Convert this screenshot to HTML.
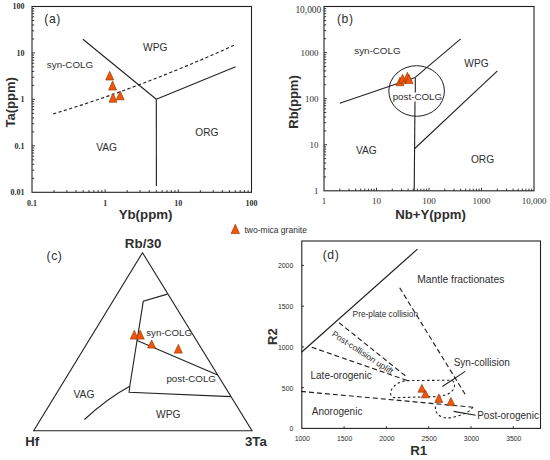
<!DOCTYPE html>
<html><head><meta charset="utf-8"><style>
html,body{margin:0;padding:0;background:#fff;width:550px;height:460px;overflow:hidden}
svg{display:block}
</style></head><body>
<svg width="550" height="460" viewBox="0 0 550 460">
<rect width="550" height="460" fill="#fff"/>
<line x1="54.03" y1="192.30" x2="54.03" y2="190.10" stroke="#222222" stroke-width="0.9" stroke-linecap="butt"/>
<line x1="66.91" y1="192.30" x2="66.91" y2="190.10" stroke="#222222" stroke-width="0.9" stroke-linecap="butt"/>
<line x1="76.05" y1="192.30" x2="76.05" y2="190.10" stroke="#222222" stroke-width="0.9" stroke-linecap="butt"/>
<line x1="83.14" y1="192.30" x2="83.14" y2="190.10" stroke="#222222" stroke-width="0.9" stroke-linecap="butt"/>
<line x1="88.93" y1="192.30" x2="88.93" y2="190.10" stroke="#222222" stroke-width="0.9" stroke-linecap="butt"/>
<line x1="93.83" y1="192.30" x2="93.83" y2="190.10" stroke="#222222" stroke-width="0.9" stroke-linecap="butt"/>
<line x1="98.08" y1="192.30" x2="98.08" y2="190.10" stroke="#222222" stroke-width="0.9" stroke-linecap="butt"/>
<line x1="101.82" y1="192.30" x2="101.82" y2="190.10" stroke="#222222" stroke-width="0.9" stroke-linecap="butt"/>
<line x1="105.17" y1="192.30" x2="105.17" y2="189.30" stroke="#222222" stroke-width="0.9" stroke-linecap="butt"/>
<line x1="127.19" y1="192.30" x2="127.19" y2="190.10" stroke="#222222" stroke-width="0.9" stroke-linecap="butt"/>
<line x1="140.08" y1="192.30" x2="140.08" y2="190.10" stroke="#222222" stroke-width="0.9" stroke-linecap="butt"/>
<line x1="149.22" y1="192.30" x2="149.22" y2="190.10" stroke="#222222" stroke-width="0.9" stroke-linecap="butt"/>
<line x1="156.31" y1="192.30" x2="156.31" y2="190.10" stroke="#222222" stroke-width="0.9" stroke-linecap="butt"/>
<line x1="162.10" y1="192.30" x2="162.10" y2="190.10" stroke="#222222" stroke-width="0.9" stroke-linecap="butt"/>
<line x1="167.00" y1="192.30" x2="167.00" y2="190.10" stroke="#222222" stroke-width="0.9" stroke-linecap="butt"/>
<line x1="171.24" y1="192.30" x2="171.24" y2="190.10" stroke="#222222" stroke-width="0.9" stroke-linecap="butt"/>
<line x1="174.99" y1="192.30" x2="174.99" y2="190.10" stroke="#222222" stroke-width="0.9" stroke-linecap="butt"/>
<line x1="178.33" y1="192.30" x2="178.33" y2="189.30" stroke="#222222" stroke-width="0.9" stroke-linecap="butt"/>
<line x1="200.36" y1="192.30" x2="200.36" y2="190.10" stroke="#222222" stroke-width="0.9" stroke-linecap="butt"/>
<line x1="213.24" y1="192.30" x2="213.24" y2="190.10" stroke="#222222" stroke-width="0.9" stroke-linecap="butt"/>
<line x1="222.38" y1="192.30" x2="222.38" y2="190.10" stroke="#222222" stroke-width="0.9" stroke-linecap="butt"/>
<line x1="229.47" y1="192.30" x2="229.47" y2="190.10" stroke="#222222" stroke-width="0.9" stroke-linecap="butt"/>
<line x1="235.27" y1="192.30" x2="235.27" y2="190.10" stroke="#222222" stroke-width="0.9" stroke-linecap="butt"/>
<line x1="240.17" y1="192.30" x2="240.17" y2="190.10" stroke="#222222" stroke-width="0.9" stroke-linecap="butt"/>
<line x1="244.41" y1="192.30" x2="244.41" y2="190.10" stroke="#222222" stroke-width="0.9" stroke-linecap="butt"/>
<line x1="248.15" y1="192.30" x2="248.15" y2="190.10" stroke="#222222" stroke-width="0.9" stroke-linecap="butt"/>
<line x1="32.00" y1="178.32" x2="34.20" y2="178.32" stroke="#222222" stroke-width="0.9" stroke-linecap="butt"/>
<line x1="32.00" y1="170.14" x2="34.20" y2="170.14" stroke="#222222" stroke-width="0.9" stroke-linecap="butt"/>
<line x1="32.00" y1="164.33" x2="34.20" y2="164.33" stroke="#222222" stroke-width="0.9" stroke-linecap="butt"/>
<line x1="32.00" y1="159.83" x2="34.20" y2="159.83" stroke="#222222" stroke-width="0.9" stroke-linecap="butt"/>
<line x1="32.00" y1="156.15" x2="34.20" y2="156.15" stroke="#222222" stroke-width="0.9" stroke-linecap="butt"/>
<line x1="32.00" y1="153.05" x2="34.20" y2="153.05" stroke="#222222" stroke-width="0.9" stroke-linecap="butt"/>
<line x1="32.00" y1="150.35" x2="34.20" y2="150.35" stroke="#222222" stroke-width="0.9" stroke-linecap="butt"/>
<line x1="32.00" y1="147.98" x2="34.20" y2="147.98" stroke="#222222" stroke-width="0.9" stroke-linecap="butt"/>
<line x1="32.00" y1="145.85" x2="35.00" y2="145.85" stroke="#222222" stroke-width="0.9" stroke-linecap="butt"/>
<line x1="32.00" y1="131.87" x2="34.20" y2="131.87" stroke="#222222" stroke-width="0.9" stroke-linecap="butt"/>
<line x1="32.00" y1="123.69" x2="34.20" y2="123.69" stroke="#222222" stroke-width="0.9" stroke-linecap="butt"/>
<line x1="32.00" y1="117.88" x2="34.20" y2="117.88" stroke="#222222" stroke-width="0.9" stroke-linecap="butt"/>
<line x1="32.00" y1="113.38" x2="34.20" y2="113.38" stroke="#222222" stroke-width="0.9" stroke-linecap="butt"/>
<line x1="32.00" y1="109.70" x2="34.20" y2="109.70" stroke="#222222" stroke-width="0.9" stroke-linecap="butt"/>
<line x1="32.00" y1="106.60" x2="34.20" y2="106.60" stroke="#222222" stroke-width="0.9" stroke-linecap="butt"/>
<line x1="32.00" y1="103.90" x2="34.20" y2="103.90" stroke="#222222" stroke-width="0.9" stroke-linecap="butt"/>
<line x1="32.00" y1="101.53" x2="34.20" y2="101.53" stroke="#222222" stroke-width="0.9" stroke-linecap="butt"/>
<line x1="32.00" y1="99.40" x2="35.00" y2="99.40" stroke="#222222" stroke-width="0.9" stroke-linecap="butt"/>
<line x1="32.00" y1="85.42" x2="34.20" y2="85.42" stroke="#222222" stroke-width="0.9" stroke-linecap="butt"/>
<line x1="32.00" y1="77.24" x2="34.20" y2="77.24" stroke="#222222" stroke-width="0.9" stroke-linecap="butt"/>
<line x1="32.00" y1="71.43" x2="34.20" y2="71.43" stroke="#222222" stroke-width="0.9" stroke-linecap="butt"/>
<line x1="32.00" y1="66.93" x2="34.20" y2="66.93" stroke="#222222" stroke-width="0.9" stroke-linecap="butt"/>
<line x1="32.00" y1="63.25" x2="34.20" y2="63.25" stroke="#222222" stroke-width="0.9" stroke-linecap="butt"/>
<line x1="32.00" y1="60.15" x2="34.20" y2="60.15" stroke="#222222" stroke-width="0.9" stroke-linecap="butt"/>
<line x1="32.00" y1="57.45" x2="34.20" y2="57.45" stroke="#222222" stroke-width="0.9" stroke-linecap="butt"/>
<line x1="32.00" y1="55.08" x2="34.20" y2="55.08" stroke="#222222" stroke-width="0.9" stroke-linecap="butt"/>
<line x1="32.00" y1="52.95" x2="35.00" y2="52.95" stroke="#222222" stroke-width="0.9" stroke-linecap="butt"/>
<line x1="32.00" y1="38.97" x2="34.20" y2="38.97" stroke="#222222" stroke-width="0.9" stroke-linecap="butt"/>
<line x1="32.00" y1="30.79" x2="34.20" y2="30.79" stroke="#222222" stroke-width="0.9" stroke-linecap="butt"/>
<line x1="32.00" y1="24.98" x2="34.20" y2="24.98" stroke="#222222" stroke-width="0.9" stroke-linecap="butt"/>
<line x1="32.00" y1="20.48" x2="34.20" y2="20.48" stroke="#222222" stroke-width="0.9" stroke-linecap="butt"/>
<line x1="32.00" y1="16.80" x2="34.20" y2="16.80" stroke="#222222" stroke-width="0.9" stroke-linecap="butt"/>
<line x1="32.00" y1="13.70" x2="34.20" y2="13.70" stroke="#222222" stroke-width="0.9" stroke-linecap="butt"/>
<line x1="32.00" y1="11.00" x2="34.20" y2="11.00" stroke="#222222" stroke-width="0.9" stroke-linecap="butt"/>
<line x1="32.00" y1="8.63" x2="34.20" y2="8.63" stroke="#222222" stroke-width="0.9" stroke-linecap="butt"/>
<rect x="32.0" y="6.5" width="219.5" height="185.8" fill="none" stroke="#222222" stroke-width="1.1"/>
<text x="24.60" y="9.34" font-family="Liberation Serif" font-size="8" font-weight="bold" text-anchor="end" fill="#2e2e2e">100</text>
<text x="24.60" y="55.79" font-family="Liberation Serif" font-size="8" font-weight="bold" text-anchor="end" fill="#2e2e2e">10</text>
<text x="24.60" y="102.24" font-family="Liberation Serif" font-size="8" font-weight="bold" text-anchor="end" fill="#2e2e2e">1</text>
<text x="24.60" y="148.69" font-family="Liberation Serif" font-size="8" font-weight="bold" text-anchor="end" fill="#2e2e2e">0.1</text>
<text x="24.60" y="195.14" font-family="Liberation Serif" font-size="8" font-weight="bold" text-anchor="end" fill="#2e2e2e">0.01</text>
<text x="32.00" y="205.84" font-family="Liberation Serif" font-size="8" font-weight="bold" text-anchor="middle" fill="#2e2e2e">0.1</text>
<text x="105.17" y="205.84" font-family="Liberation Serif" font-size="8" font-weight="bold" text-anchor="middle" fill="#2e2e2e">1</text>
<text x="178.33" y="205.84" font-family="Liberation Serif" font-size="8" font-weight="bold" text-anchor="middle" fill="#2e2e2e">10</text>
<text x="251.50" y="205.84" font-family="Liberation Serif" font-size="8" font-weight="bold" text-anchor="middle" fill="#2e2e2e">100</text>
<line x1="82.90" y1="39.30" x2="156.30" y2="99.20" stroke="#222222" stroke-width="1.1" stroke-linecap="butt"/>
<line x1="156.30" y1="99.20" x2="156.40" y2="186.00" stroke="#222222" stroke-width="1.1" stroke-linecap="butt"/>
<line x1="156.30" y1="99.20" x2="235.60" y2="66.80" stroke="#222222" stroke-width="1.1" stroke-linecap="butt"/>
<path d="M53.2,113.9 Q141,87.5 234.0,45.3" stroke="#222222" stroke-width="1.15" fill="none" stroke-dasharray="3.2 2.4"/>
<text x="52.60" y="23.37" font-family="Liberation Sans" font-size="12.2" font-weight="normal" text-anchor="middle" fill="#2e2e2e" letter-spacing="0.6">(a)</text>
<text x="155.20" y="51.15" font-family="Liberation Sans" font-size="10.2" font-weight="normal" text-anchor="middle" fill="#2e2e2e">WPG</text>
<text x="70.00" y="68.41" font-family="Liberation Sans" font-size="9.8" font-weight="normal" text-anchor="middle" fill="#2e2e2e">syn-COLG</text>
<text x="206.90" y="136.05" font-family="Liberation Sans" font-size="10.2" font-weight="normal" text-anchor="middle" fill="#2e2e2e">ORG</text>
<text x="106.60" y="151.45" font-family="Liberation Sans" font-size="10.2" font-weight="normal" text-anchor="middle" fill="#2e2e2e">VAG</text>
<text x="145.60" y="218.76" font-family="Liberation Sans" font-size="13.3" font-weight="bold" text-anchor="middle" fill="#2e2e2e">Yb(ppm)</text>
<text x="0" y="0" transform="translate(15.35,102.3) rotate(-90)" font-family="Liberation Sans" font-size="13" font-weight="bold" text-anchor="middle" fill="#2e2e2e">Ta(ppm)</text>
<polygon points="109.70,71.30 105.70,80.00 113.70,80.00" fill="#f25508" stroke="#9a3d10" stroke-width="0.7" stroke-linejoin="miter"/>
<polygon points="112.60,81.10 108.60,90.00 116.60,90.00" fill="#f25508" stroke="#9a3d10" stroke-width="0.7" stroke-linejoin="miter"/>
<polygon points="120.20,91.10 116.20,99.80 124.20,99.80" fill="#f25508" stroke="#9a3d10" stroke-width="0.7" stroke-linejoin="miter"/>
<polygon points="113.00,93.30 109.00,102.20 117.00,102.20" fill="#f25508" stroke="#9a3d10" stroke-width="0.7" stroke-linejoin="miter"/>
<line x1="339.80" y1="190.80" x2="339.80" y2="188.60" stroke="#222222" stroke-width="0.9" stroke-linecap="butt"/>
<line x1="324.00" y1="176.93" x2="326.20" y2="176.93" stroke="#222222" stroke-width="0.9" stroke-linecap="butt"/>
<line x1="349.05" y1="190.80" x2="349.05" y2="188.60" stroke="#222222" stroke-width="0.9" stroke-linecap="butt"/>
<line x1="324.00" y1="168.82" x2="326.20" y2="168.82" stroke="#222222" stroke-width="0.9" stroke-linecap="butt"/>
<line x1="355.61" y1="190.80" x2="355.61" y2="188.60" stroke="#222222" stroke-width="0.9" stroke-linecap="butt"/>
<line x1="324.00" y1="163.06" x2="326.20" y2="163.06" stroke="#222222" stroke-width="0.9" stroke-linecap="butt"/>
<line x1="360.70" y1="190.80" x2="360.70" y2="188.60" stroke="#222222" stroke-width="0.9" stroke-linecap="butt"/>
<line x1="324.00" y1="158.59" x2="326.20" y2="158.59" stroke="#222222" stroke-width="0.9" stroke-linecap="butt"/>
<line x1="364.85" y1="190.80" x2="364.85" y2="188.60" stroke="#222222" stroke-width="0.9" stroke-linecap="butt"/>
<line x1="324.00" y1="154.95" x2="326.20" y2="154.95" stroke="#222222" stroke-width="0.9" stroke-linecap="butt"/>
<line x1="368.37" y1="190.80" x2="368.37" y2="188.60" stroke="#222222" stroke-width="0.9" stroke-linecap="butt"/>
<line x1="324.00" y1="151.86" x2="326.20" y2="151.86" stroke="#222222" stroke-width="0.9" stroke-linecap="butt"/>
<line x1="371.41" y1="190.80" x2="371.41" y2="188.60" stroke="#222222" stroke-width="0.9" stroke-linecap="butt"/>
<line x1="324.00" y1="149.19" x2="326.20" y2="149.19" stroke="#222222" stroke-width="0.9" stroke-linecap="butt"/>
<line x1="374.10" y1="190.80" x2="374.10" y2="188.60" stroke="#222222" stroke-width="0.9" stroke-linecap="butt"/>
<line x1="324.00" y1="146.83" x2="326.20" y2="146.83" stroke="#222222" stroke-width="0.9" stroke-linecap="butt"/>
<line x1="376.50" y1="190.80" x2="376.50" y2="187.80" stroke="#222222" stroke-width="0.9" stroke-linecap="butt"/>
<line x1="324.00" y1="144.73" x2="327.00" y2="144.73" stroke="#222222" stroke-width="0.9" stroke-linecap="butt"/>
<line x1="392.30" y1="190.80" x2="392.30" y2="188.60" stroke="#222222" stroke-width="0.9" stroke-linecap="butt"/>
<line x1="324.00" y1="130.86" x2="326.20" y2="130.86" stroke="#222222" stroke-width="0.9" stroke-linecap="butt"/>
<line x1="401.55" y1="190.80" x2="401.55" y2="188.60" stroke="#222222" stroke-width="0.9" stroke-linecap="butt"/>
<line x1="324.00" y1="122.74" x2="326.20" y2="122.74" stroke="#222222" stroke-width="0.9" stroke-linecap="butt"/>
<line x1="408.11" y1="190.80" x2="408.11" y2="188.60" stroke="#222222" stroke-width="0.9" stroke-linecap="butt"/>
<line x1="324.00" y1="116.99" x2="326.20" y2="116.99" stroke="#222222" stroke-width="0.9" stroke-linecap="butt"/>
<line x1="413.20" y1="190.80" x2="413.20" y2="188.60" stroke="#222222" stroke-width="0.9" stroke-linecap="butt"/>
<line x1="324.00" y1="112.52" x2="326.20" y2="112.52" stroke="#222222" stroke-width="0.9" stroke-linecap="butt"/>
<line x1="417.35" y1="190.80" x2="417.35" y2="188.60" stroke="#222222" stroke-width="0.9" stroke-linecap="butt"/>
<line x1="324.00" y1="108.87" x2="326.20" y2="108.87" stroke="#222222" stroke-width="0.9" stroke-linecap="butt"/>
<line x1="420.87" y1="190.80" x2="420.87" y2="188.60" stroke="#222222" stroke-width="0.9" stroke-linecap="butt"/>
<line x1="324.00" y1="105.79" x2="326.20" y2="105.79" stroke="#222222" stroke-width="0.9" stroke-linecap="butt"/>
<line x1="423.91" y1="190.80" x2="423.91" y2="188.60" stroke="#222222" stroke-width="0.9" stroke-linecap="butt"/>
<line x1="324.00" y1="103.12" x2="326.20" y2="103.12" stroke="#222222" stroke-width="0.9" stroke-linecap="butt"/>
<line x1="426.60" y1="190.80" x2="426.60" y2="188.60" stroke="#222222" stroke-width="0.9" stroke-linecap="butt"/>
<line x1="324.00" y1="100.76" x2="326.20" y2="100.76" stroke="#222222" stroke-width="0.9" stroke-linecap="butt"/>
<line x1="429.00" y1="190.80" x2="429.00" y2="187.80" stroke="#222222" stroke-width="0.9" stroke-linecap="butt"/>
<line x1="324.00" y1="98.65" x2="327.00" y2="98.65" stroke="#222222" stroke-width="0.9" stroke-linecap="butt"/>
<line x1="444.80" y1="190.80" x2="444.80" y2="188.60" stroke="#222222" stroke-width="0.9" stroke-linecap="butt"/>
<line x1="324.00" y1="84.78" x2="326.20" y2="84.78" stroke="#222222" stroke-width="0.9" stroke-linecap="butt"/>
<line x1="454.05" y1="190.80" x2="454.05" y2="188.60" stroke="#222222" stroke-width="0.9" stroke-linecap="butt"/>
<line x1="324.00" y1="76.67" x2="326.20" y2="76.67" stroke="#222222" stroke-width="0.9" stroke-linecap="butt"/>
<line x1="460.61" y1="190.80" x2="460.61" y2="188.60" stroke="#222222" stroke-width="0.9" stroke-linecap="butt"/>
<line x1="324.00" y1="70.91" x2="326.20" y2="70.91" stroke="#222222" stroke-width="0.9" stroke-linecap="butt"/>
<line x1="465.70" y1="190.80" x2="465.70" y2="188.60" stroke="#222222" stroke-width="0.9" stroke-linecap="butt"/>
<line x1="324.00" y1="66.44" x2="326.20" y2="66.44" stroke="#222222" stroke-width="0.9" stroke-linecap="butt"/>
<line x1="469.85" y1="190.80" x2="469.85" y2="188.60" stroke="#222222" stroke-width="0.9" stroke-linecap="butt"/>
<line x1="324.00" y1="62.80" x2="326.20" y2="62.80" stroke="#222222" stroke-width="0.9" stroke-linecap="butt"/>
<line x1="473.37" y1="190.80" x2="473.37" y2="188.60" stroke="#222222" stroke-width="0.9" stroke-linecap="butt"/>
<line x1="324.00" y1="59.71" x2="326.20" y2="59.71" stroke="#222222" stroke-width="0.9" stroke-linecap="butt"/>
<line x1="476.41" y1="190.80" x2="476.41" y2="188.60" stroke="#222222" stroke-width="0.9" stroke-linecap="butt"/>
<line x1="324.00" y1="57.04" x2="326.20" y2="57.04" stroke="#222222" stroke-width="0.9" stroke-linecap="butt"/>
<line x1="479.10" y1="190.80" x2="479.10" y2="188.60" stroke="#222222" stroke-width="0.9" stroke-linecap="butt"/>
<line x1="324.00" y1="54.68" x2="326.20" y2="54.68" stroke="#222222" stroke-width="0.9" stroke-linecap="butt"/>
<line x1="481.50" y1="190.80" x2="481.50" y2="187.80" stroke="#222222" stroke-width="0.9" stroke-linecap="butt"/>
<line x1="324.00" y1="52.57" x2="327.00" y2="52.57" stroke="#222222" stroke-width="0.9" stroke-linecap="butt"/>
<line x1="497.30" y1="190.80" x2="497.30" y2="188.60" stroke="#222222" stroke-width="0.9" stroke-linecap="butt"/>
<line x1="324.00" y1="38.71" x2="326.20" y2="38.71" stroke="#222222" stroke-width="0.9" stroke-linecap="butt"/>
<line x1="506.55" y1="190.80" x2="506.55" y2="188.60" stroke="#222222" stroke-width="0.9" stroke-linecap="butt"/>
<line x1="324.00" y1="30.59" x2="326.20" y2="30.59" stroke="#222222" stroke-width="0.9" stroke-linecap="butt"/>
<line x1="513.11" y1="190.80" x2="513.11" y2="188.60" stroke="#222222" stroke-width="0.9" stroke-linecap="butt"/>
<line x1="324.00" y1="24.84" x2="326.20" y2="24.84" stroke="#222222" stroke-width="0.9" stroke-linecap="butt"/>
<line x1="518.20" y1="190.80" x2="518.20" y2="188.60" stroke="#222222" stroke-width="0.9" stroke-linecap="butt"/>
<line x1="324.00" y1="20.37" x2="326.20" y2="20.37" stroke="#222222" stroke-width="0.9" stroke-linecap="butt"/>
<line x1="522.35" y1="190.80" x2="522.35" y2="188.60" stroke="#222222" stroke-width="0.9" stroke-linecap="butt"/>
<line x1="324.00" y1="16.72" x2="326.20" y2="16.72" stroke="#222222" stroke-width="0.9" stroke-linecap="butt"/>
<line x1="525.87" y1="190.80" x2="525.87" y2="188.60" stroke="#222222" stroke-width="0.9" stroke-linecap="butt"/>
<line x1="324.00" y1="13.64" x2="326.20" y2="13.64" stroke="#222222" stroke-width="0.9" stroke-linecap="butt"/>
<line x1="528.91" y1="190.80" x2="528.91" y2="188.60" stroke="#222222" stroke-width="0.9" stroke-linecap="butt"/>
<line x1="324.00" y1="10.97" x2="326.20" y2="10.97" stroke="#222222" stroke-width="0.9" stroke-linecap="butt"/>
<line x1="531.60" y1="190.80" x2="531.60" y2="188.60" stroke="#222222" stroke-width="0.9" stroke-linecap="butt"/>
<line x1="324.00" y1="8.61" x2="326.20" y2="8.61" stroke="#222222" stroke-width="0.9" stroke-linecap="butt"/>
<rect x="324.0" y="6.5" width="210.0" height="184.3" fill="none" stroke="#222222" stroke-width="1.1"/>
<text x="318.50" y="56.04" font-family="Liberation Serif" font-size="9" font-weight="normal" text-anchor="end" fill="#2e2e2e">1000</text>
<text x="318.50" y="102.12" font-family="Liberation Serif" font-size="9" font-weight="normal" text-anchor="end" fill="#2e2e2e">100</text>
<text x="318.50" y="148.20" font-family="Liberation Serif" font-size="9" font-weight="normal" text-anchor="end" fill="#2e2e2e">10</text>
<text x="318.50" y="194.27" font-family="Liberation Serif" font-size="9" font-weight="normal" text-anchor="end" fill="#2e2e2e">1</text>
<text x="321.20" y="12.50" font-family="Liberation Serif" font-size="9.4" font-weight="normal" text-anchor="end" fill="#2e2e2e">10,000</text>
<text x="324.00" y="203.97" font-family="Liberation Serif" font-size="9" font-weight="normal" text-anchor="middle" fill="#2e2e2e">1</text>
<text x="376.50" y="203.97" font-family="Liberation Serif" font-size="9" font-weight="normal" text-anchor="middle" fill="#2e2e2e">10</text>
<text x="429.00" y="203.97" font-family="Liberation Serif" font-size="9" font-weight="normal" text-anchor="middle" fill="#2e2e2e">100</text>
<text x="481.50" y="203.97" font-family="Liberation Serif" font-size="9" font-weight="normal" text-anchor="middle" fill="#2e2e2e">1000</text>
<text x="534.00" y="203.97" font-family="Liberation Serif" font-size="9" font-weight="normal" text-anchor="middle" fill="#2e2e2e">10,000</text>
<ellipse cx="416.6" cy="91" rx="27.8" ry="25.3" fill="none" stroke="#222222" stroke-width="1"/>
<line x1="339.80" y1="103.30" x2="415.20" y2="77.40" stroke="#222222" stroke-width="1.1" stroke-linecap="butt"/>
<line x1="415.20" y1="77.40" x2="460.70" y2="38.90" stroke="#222222" stroke-width="1.1" stroke-linecap="butt"/>
<line x1="415.30" y1="77.40" x2="415.30" y2="92.40" stroke="#222222" stroke-width="1.1" stroke-linecap="butt"/>
<line x1="415.00" y1="101.40" x2="414.20" y2="190.80" stroke="#222222" stroke-width="1.1" stroke-linecap="butt"/>
<line x1="414.20" y1="149.00" x2="497.40" y2="70.90" stroke="#222222" stroke-width="1.1" stroke-linecap="butt"/>
<text x="345.30" y="22.77" font-family="Liberation Sans" font-size="12.2" font-weight="normal" text-anchor="middle" fill="#2e2e2e" letter-spacing="0.6">(b)</text>
<text x="377.40" y="53.81" font-family="Liberation Sans" font-size="9.8" font-weight="normal" text-anchor="middle" fill="#2e2e2e">syn-COLG</text>
<text x="476.50" y="67.35" font-family="Liberation Sans" font-size="10.2" font-weight="normal" text-anchor="middle" fill="#2e2e2e">WPG</text>
<text x="417.40" y="99.91" font-family="Liberation Sans" font-size="9.8" font-weight="normal" text-anchor="middle" fill="#2e2e2e">post-COLG</text>
<text x="366.40" y="154.35" font-family="Liberation Sans" font-size="10.2" font-weight="normal" text-anchor="middle" fill="#2e2e2e">VAG</text>
<text x="482.50" y="162.75" font-family="Liberation Sans" font-size="10.2" font-weight="normal" text-anchor="middle" fill="#2e2e2e">ORG</text>
<text x="430.50" y="218.63" font-family="Liberation Sans" font-size="13.2" font-weight="bold" text-anchor="middle" fill="#2e2e2e">Nb+Y(ppm)</text>
<text x="0" y="0" transform="translate(297.75,102.0) rotate(-90)" font-family="Liberation Sans" font-size="13" font-weight="bold" text-anchor="middle" fill="#2e2e2e">Rb(ppm)</text>
<polygon points="400.00,77.10 396.00,85.70 404.00,85.70" fill="#f25508" stroke="#9a3d10" stroke-width="0.7" stroke-linejoin="miter"/>
<polygon points="402.60,74.20 398.60,83.20 406.60,83.20" fill="#f25508" stroke="#9a3d10" stroke-width="0.7" stroke-linejoin="miter"/>
<polygon points="407.40,72.30 403.40,81.30 411.40,81.30" fill="#f25508" stroke="#9a3d10" stroke-width="0.7" stroke-linejoin="miter"/>
<polygon points="409.00,74.60 405.00,83.60 413.00,83.60" fill="#f25508" stroke="#9a3d10" stroke-width="0.7" stroke-linejoin="miter"/>
<polygon points="235.30,224.30 231.10,233.60 239.50,233.60" fill="#f25508" stroke="#9a3d10" stroke-width="0.7" stroke-linejoin="miter"/>
<text x="244.50" y="233.24" font-family="Liberation Sans" font-size="8.5" font-weight="normal" text-anchor="start" fill="#2e2e2e">two-mica granite</text>
<polygon points="142.5,252.7 33.7,430.8 252.0,430.8" fill="none" stroke="#222222" stroke-width="1.1" stroke-linejoin="miter"/>
<path d="M167.4,294.1 L143.3,301.3 L129.8,386.0 L129.1,392.2 L230.8,396.6" stroke="#222222" stroke-width="1.1" fill="none"/>
<line x1="137.10" y1="340.40" x2="217.60" y2="374.90" stroke="#222222" stroke-width="1.1" stroke-linecap="butt"/>
<path d="M84.4,419.5 Q108,398 129.8,386.3" stroke="#222222" stroke-width="1.1" fill="none"/>
<text x="54.50" y="259.97" font-family="Liberation Sans" font-size="12.2" font-weight="normal" text-anchor="middle" fill="#2e2e2e" letter-spacing="0.6">(c)</text>
<text x="143.10" y="248.00" font-family="Liberation Sans" font-size="13.4" font-weight="bold" text-anchor="middle" fill="#2e2e2e">Rb/30</text>
<text x="32.20" y="445.83" font-family="Liberation Sans" font-size="13.2" font-weight="bold" text-anchor="middle" fill="#2e2e2e">Hf</text>
<text x="255.90" y="445.73" font-family="Liberation Sans" font-size="13.2" font-weight="bold" text-anchor="middle" fill="#2e2e2e">3Ta</text>
<text x="146.20" y="336.47" font-family="Liberation Sans" font-size="9.7" font-weight="normal" text-anchor="start" fill="#2e2e2e">syn-COLG</text>
<text x="191.20" y="381.51" font-family="Liberation Sans" font-size="9.8" font-weight="normal" text-anchor="middle" fill="#2e2e2e">post-COLG</text>
<text x="84.00" y="398.29" font-family="Liberation Sans" font-size="10.3" font-weight="normal" text-anchor="middle" fill="#2e2e2e">VAG</text>
<text x="168.20" y="417.65" font-family="Liberation Sans" font-size="10.2" font-weight="normal" text-anchor="middle" fill="#2e2e2e">WPG</text>
<polygon points="134.30,330.30 130.30,339.10 138.30,339.10" fill="#f25508" stroke="#9a3d10" stroke-width="0.7" stroke-linejoin="miter"/>
<polygon points="140.20,330.30 136.20,339.10 144.20,339.10" fill="#f25508" stroke="#9a3d10" stroke-width="0.7" stroke-linejoin="miter"/>
<polygon points="151.60,340.00 147.60,348.10 155.60,348.10" fill="#f25508" stroke="#9a3d10" stroke-width="0.7" stroke-linejoin="miter"/>
<polygon points="178.30,344.40 174.30,353.10 182.30,353.10" fill="#f25508" stroke="#9a3d10" stroke-width="0.7" stroke-linejoin="miter"/>
<line x1="344.10" y1="428.40" x2="344.10" y2="426.20" stroke="#222222" stroke-width="0.9" stroke-linecap="butt"/>
<line x1="386.40" y1="428.40" x2="386.40" y2="426.20" stroke="#222222" stroke-width="0.9" stroke-linecap="butt"/>
<line x1="428.70" y1="428.40" x2="428.70" y2="426.20" stroke="#222222" stroke-width="0.9" stroke-linecap="butt"/>
<line x1="471.00" y1="428.40" x2="471.00" y2="426.20" stroke="#222222" stroke-width="0.9" stroke-linecap="butt"/>
<line x1="513.30" y1="428.40" x2="513.30" y2="426.20" stroke="#222222" stroke-width="0.9" stroke-linecap="butt"/>
<line x1="301.80" y1="387.65" x2="304.00" y2="387.65" stroke="#222222" stroke-width="0.9" stroke-linecap="butt"/>
<line x1="301.80" y1="346.90" x2="304.00" y2="346.90" stroke="#222222" stroke-width="0.9" stroke-linecap="butt"/>
<line x1="301.80" y1="306.15" x2="304.00" y2="306.15" stroke="#222222" stroke-width="0.9" stroke-linecap="butt"/>
<line x1="301.80" y1="265.40" x2="304.00" y2="265.40" stroke="#222222" stroke-width="0.9" stroke-linecap="butt"/>
<rect x="301.8" y="241.0" width="238.7" height="187.39999999999998" fill="none" stroke="#222222" stroke-width="1.1"/>
<text x="293.30" y="431.37" font-family="Liberation Sans" font-size="6.9" font-weight="normal" text-anchor="end" fill="#2e2e2e">0</text>
<text x="293.30" y="390.62" font-family="Liberation Sans" font-size="6.9" font-weight="normal" text-anchor="end" fill="#2e2e2e">500</text>
<text x="293.30" y="349.87" font-family="Liberation Sans" font-size="6.9" font-weight="normal" text-anchor="end" fill="#2e2e2e">1000</text>
<text x="293.30" y="309.12" font-family="Liberation Sans" font-size="6.9" font-weight="normal" text-anchor="end" fill="#2e2e2e">1500</text>
<text x="293.30" y="268.37" font-family="Liberation Sans" font-size="6.9" font-weight="normal" text-anchor="end" fill="#2e2e2e">2000</text>
<text x="302.30" y="441.47" font-family="Liberation Sans" font-size="6.9" font-weight="normal" text-anchor="middle" fill="#2e2e2e">1000</text>
<text x="344.60" y="441.47" font-family="Liberation Sans" font-size="6.9" font-weight="normal" text-anchor="middle" fill="#2e2e2e">1500</text>
<text x="386.90" y="441.47" font-family="Liberation Sans" font-size="6.9" font-weight="normal" text-anchor="middle" fill="#2e2e2e">2000</text>
<text x="429.20" y="441.47" font-family="Liberation Sans" font-size="6.9" font-weight="normal" text-anchor="middle" fill="#2e2e2e">2500</text>
<text x="471.50" y="441.47" font-family="Liberation Sans" font-size="6.9" font-weight="normal" text-anchor="middle" fill="#2e2e2e">3000</text>
<text x="513.80" y="441.47" font-family="Liberation Sans" font-size="6.9" font-weight="normal" text-anchor="middle" fill="#2e2e2e">3500</text>
<line x1="301.50" y1="352.30" x2="417.50" y2="249.10" stroke="#222222" stroke-width="1.2" stroke-linecap="butt"/>
<line x1="339.00" y1="322.60" x2="407.30" y2="377.40" stroke="#222222" stroke-width="1.15" stroke-dasharray="5 3" stroke-linecap="butt"/>
<line x1="311.70" y1="347.20" x2="407.50" y2="380.60" stroke="#222222" stroke-width="1.15" stroke-dasharray="5 3" stroke-linecap="butt"/>
<line x1="399.70" y1="287.80" x2="466.50" y2="396.50" stroke="#222222" stroke-width="1.15" stroke-dasharray="5 3" stroke-linecap="butt"/>
<line x1="301.00" y1="391.40" x2="473.00" y2="407.20" stroke="#222222" stroke-width="1.15" stroke-dasharray="5 3" stroke-linecap="butt"/>
<path d="M407,380.6 L450.5,380.2 C455.5,380.4 455.5,387.5 452.5,390.5 C449,394.5 444,396 436,396.6 L395,397.7 C390.5,397.7 389.8,393 391.2,390.2 C394,385 400,381 407,380.6 Z" stroke="#222222" stroke-width="1.1" fill="none" stroke-dasharray="2.5 2.5"/>
<path d="M473,407 C470,412 463,414.5 455,416.8 C450,418.3 444,418.5 440,416 C436,413.5 435.2,410 435.4,406" stroke="#222222" stroke-width="1.1" fill="none" stroke-dasharray="2.5 2.5"/>
<line x1="442.40" y1="386.50" x2="465.20" y2="371.40" stroke="#222222" stroke-width="1.1" stroke-linecap="butt"/>
<line x1="453.60" y1="411.40" x2="475.70" y2="415.30" stroke="#222222" stroke-width="1.1" stroke-linecap="butt"/>
<text x="331.00" y="258.57" font-family="Liberation Sans" font-size="12.2" font-weight="normal" text-anchor="middle" fill="#2e2e2e" letter-spacing="0.6">(d)</text>
<text x="417.30" y="282.79" font-family="Liberation Sans" font-size="10.3" font-weight="normal" text-anchor="start" fill="#2e2e2e">Mantle fractionates</text>
<text x="352.60" y="316.87" font-family="Liberation Sans" font-size="8.3" font-weight="normal" text-anchor="start" fill="#2e2e2e">Pre-plate collision</text>
<text x="0" y="0" transform="translate(331.3,335.6) rotate(33.3)" font-family="Liberation Sans" font-size="8.6" fill="#2e2e2e">Post-collision uplift</text>
<text x="310.50" y="378.58" font-family="Liberation Sans" font-size="10" font-weight="normal" text-anchor="start" fill="#2e2e2e">Late-orogenic</text>
<text x="311.80" y="415.38" font-family="Liberation Sans" font-size="10" font-weight="normal" text-anchor="start" fill="#2e2e2e">Anorogenic</text>
<text x="453.70" y="365.98" font-family="Liberation Sans" font-size="10" font-weight="normal" text-anchor="start" fill="#2e2e2e">Syn-collision</text>
<text x="477.20" y="419.08" font-family="Liberation Sans" font-size="10" font-weight="normal" text-anchor="start" fill="#2e2e2e">Post-orogenic</text>
<text x="418.70" y="455.36" font-family="Liberation Sans" font-size="13.3" font-weight="bold" text-anchor="middle" fill="#2e2e2e">R1</text>
<text x="0" y="0" transform="translate(277.45,336.6) rotate(-90)" font-family="Liberation Sans" font-size="13" font-weight="bold" text-anchor="middle" fill="#2e2e2e">R2</text>
<polygon points="421.90,384.40 417.90,392.20 425.90,392.20" fill="#f25508" stroke="#9a3d10" stroke-width="0.7" stroke-linejoin="miter"/>
<polygon points="425.40,390.10 421.40,397.80 429.40,397.80" fill="#f25508" stroke="#9a3d10" stroke-width="0.7" stroke-linejoin="miter"/>
<polygon points="438.80,393.90 434.80,402.40 442.80,402.40" fill="#f25508" stroke="#9a3d10" stroke-width="0.7" stroke-linejoin="miter"/>
<polygon points="450.90,397.50 446.90,405.60 454.90,405.60" fill="#f25508" stroke="#9a3d10" stroke-width="0.7" stroke-linejoin="miter"/>
</svg>
</body></html>
